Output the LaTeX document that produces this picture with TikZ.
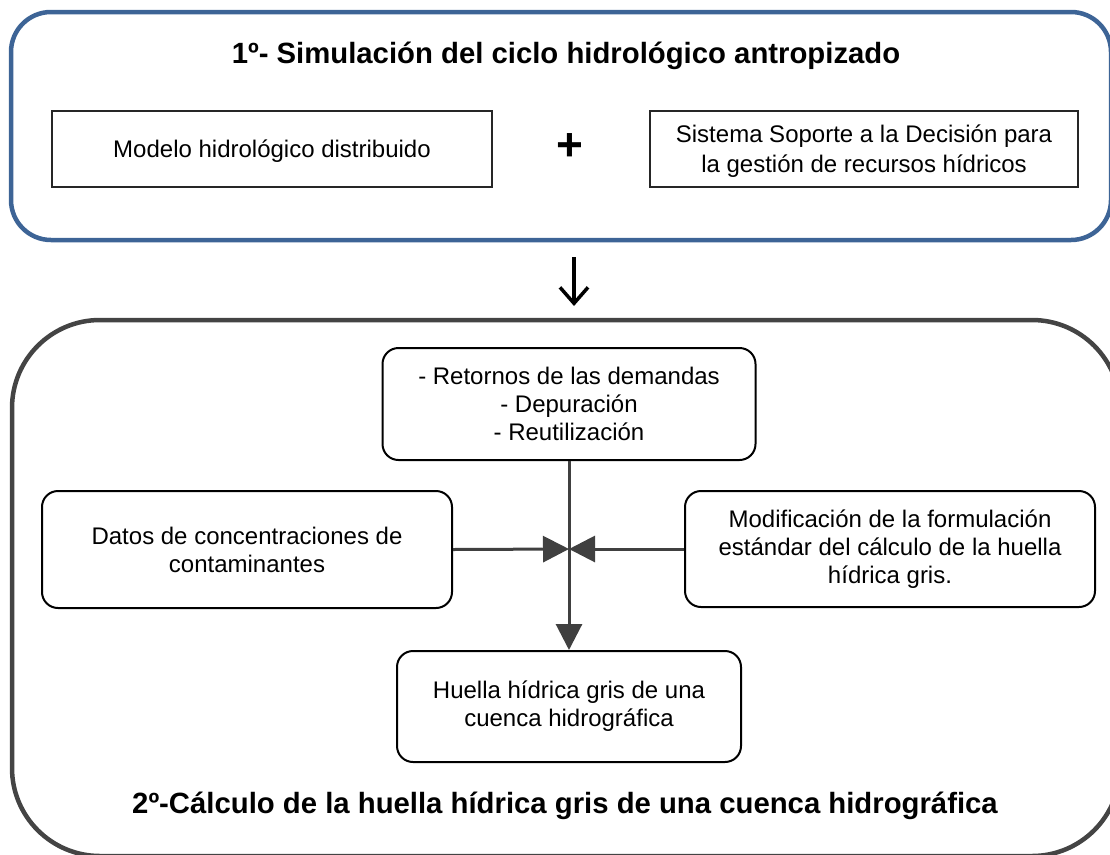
\documentclass[tikz,border=0pt]{standalone}
\usepackage{fontspec}
\setmainfont{Liberation Sans}
\usetikzlibrary{arrows.meta}
\definecolor{stageblue}{RGB}{61,100,150}
\definecolor{stagegray}{RGB}{68,68,68}
\definecolor{linkgray}{RGB}{64,64,64}
\tikzset{
  plainbox/.style={draw=black!85, line width=1.4pt, rectangle, inner sep=0pt, align=center,
    font=\fontsize{24}{30}\selectfont},
  roundbox/.style={draw=black, line width=2pt, rectangle, rounded corners=16pt, inner sep=0pt, align=center,
    font=\fontsize{24}{28}\selectfont},
  headtext/.style={font=\bfseries\fontsize{29.3}{34}\selectfont, inner sep=0pt, anchor=base},
  link/.style={draw=linkgray, line width=3pt, -{Triangle[length=26pt,width=26pt]}},
}
\begin{document}
\begin{tikzpicture}[x=1pt,y=-1pt]
\useasboundingbox (0,0) rectangle (1110,854);
\clip (0,0) rectangle (1110,854);
% stage 1
\node[draw=stageblue, line width=4.5pt, rounded corners=40pt, minimum width=1100pt, minimum height=228pt, inner sep=0pt] (stageone) at (561,126) {};
\node[headtext] (titleone) at (566,63) {1º- Simulación del ciclo hidrológico antropizado};
\node[plainbox, minimum width=440pt, minimum height=76pt] (modelo) at (272,149) {\raisebox{-2.5pt}[\height][\depth]{Modelo hidrológico distribuido}};
\node[font=\bfseries\fontsize{46}{46}\selectfont, inner sep=0pt] (plus) at (569.5,147) {+};
\node[plainbox, minimum width=428pt, minimum height=76pt] (ssd) at (864,149) {\raisebox{-2pt}[\height][\depth]{Sistema Soporte a la Decisión para}\\\raisebox{-2pt}[\height][\depth]{la gestión de recursos hídricos}};
% arrow between stages
\coordinate (arrtop) at (574,257);
\coordinate (arrbot) at (574,306);
\draw[line width=3.5pt, -{Straight Barb[length=16pt,width=28pt,line width=3.5pt]}] (arrtop) -- (arrbot);
% stage 2
\node[draw=stagegray, line width=4.5pt, rounded corners=88pt, minimum width=1108pt, minimum height=536pt, inner sep=0pt] (stagetwo) at (566,588) {};
\node[roundbox, minimum width=373pt, minimum height=112pt] (retornos) at (569,404) {- Retornos de las demandas\\- Depuración\\- Reutilización};
\node[roundbox, minimum width=410pt, minimum height=117pt] (datos) at (247,549.5) {Datos de concentraciones de\\contaminantes};
\node[roundbox, minimum width=410pt, minimum height=116pt] (modif) at (890,549) {Modificación de la formulación\\estándar del cálculo de la huella\\hídrica gris.};
\node[roundbox, minimum width=344pt, minimum height=111pt] (huella) at (569,706.5) {Huella hídrica gris de una\\cuenca hidrográfica};
\node[headtext] (titletwo) at (565,813) {2º-Cálculo de la huella hídrica gris de una cuenca hidrográfica};
% connectors
\coordinate (junction) at (569,549);
\draw[link] (retornos.south) -- (huella.north);
\draw[link] (datos.east) -- (junction);
\draw[link] (modif.west) -- (junction);
\end{tikzpicture}
\end{document}
